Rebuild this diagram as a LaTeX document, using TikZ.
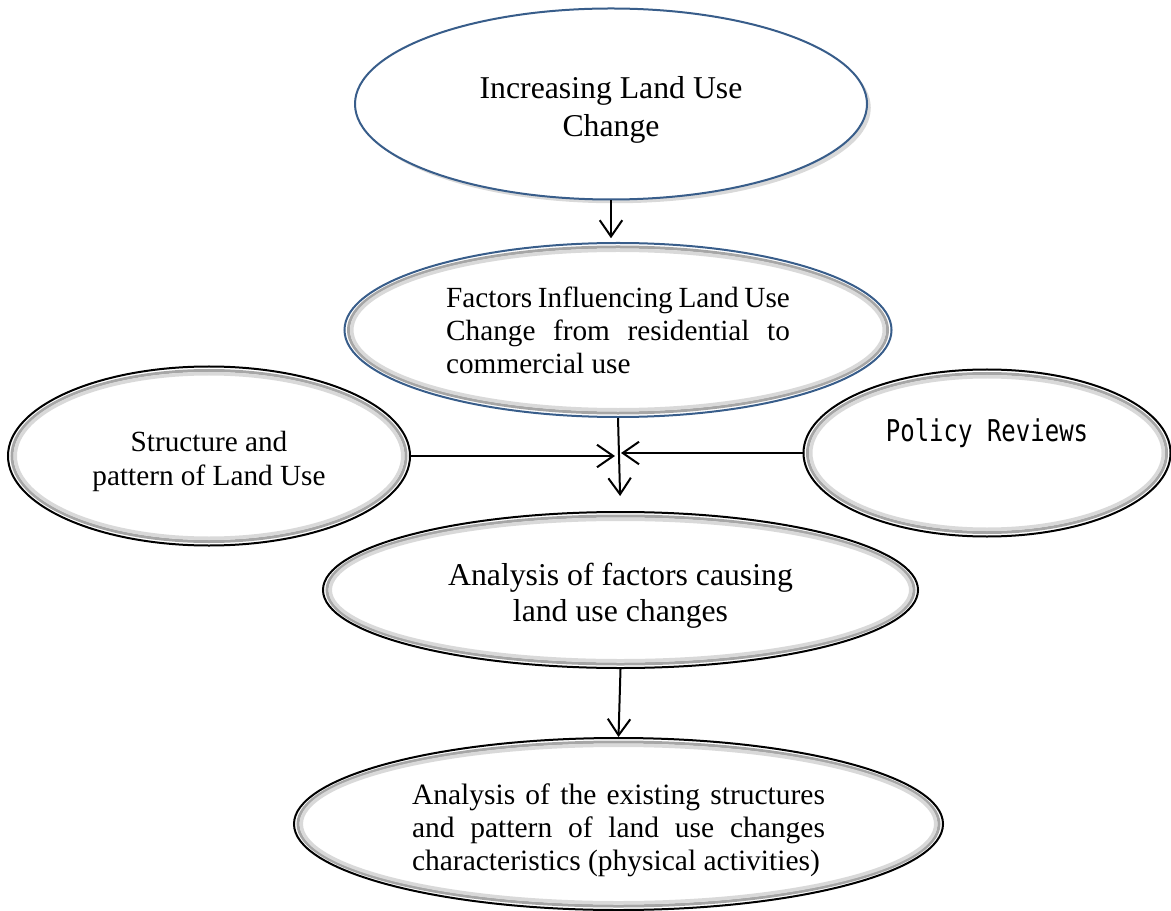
\documentclass[tikz,border=0pt]{standalone}
\usepackage{fontspec}
\setmainfont{Liberation Serif}
\newfontfamily\polfont[FakeStretch=0.8]{DejaVu Sans Mono}
\usepackage{tikz}
\usetikzlibrary{arrows.meta, positioning, shapes, shadows, calc}

\definecolor{wordblue}{RGB}{56,93,138}

\tikzset{
  oval/.style={ellipse, draw=black, line width=0.8pt, fill=white, inner sep=0pt},
  bevel/.style={path picture={
    \draw[gray!70, line width=1.2pt] let \p1=(path picture bounding box.north east), \p2=(path picture bounding box.center) in
      (\p2) ellipse [x radius={\x1-\x2-1.6pt}, y radius={\y1-\y2-1.6pt}];
    \draw[gray!30, line width=1.4pt] let \p1=(path picture bounding box.north east), \p2=(path picture bounding box.center) in
      (\p2) ellipse [x radius={\x1-\x2-2.9pt}, y radius={\y1-\y2-2.9pt}];
  }},
  flow/.style={line width=0.8pt, -{Straight Barb[length=6.5pt, width=9pt]}},
}

\begin{document}
\begin{tikzpicture}[x=0.4pt, y=-0.4pt]
\useasboundingbox (0,0) rectangle (1171,911);

% Ellipses
\node[oval, draw=wordblue, minimum width=204.8pt, minimum height=76.4pt,
  drop shadow={shadow xshift=1.5pt, shadow yshift=-1.5pt, opacity=0.3}] (inc) at (611,104) {};
\node[oval, bevel, draw=wordblue, minimum width=218.8pt, minimum height=69.6pt] (fac) at (618,330) {};
\node[oval, bevel, minimum width=160.8pt, minimum height=71.6pt] (sap) at (209,456) {};
\node[oval, bevel, minimum width=146.8pt, minimum height=66.8pt] (pol) at (987,453) {};
\node[oval, bevel, minimum width=238pt, minimum height=62.4pt] (ana) at (620.5,590) {};
\node[oval, bevel, minimum width=259.6pt, minimum height=68.8pt] (bot) at (618.5,824) {};

% Texts
\node[font=\fontsize{12.7}{15.2}\selectfont, align=center] (inctxt) at ([yshift=-2.2pt]inc.center)
  {Increasing Land Use\\Change};
\node[font=\fontsize{11.7}{13.2}\selectfont, text width=137.5pt, align=justify] (factxt) at (fac.center)
  {Factors Influencing Land Use\linebreak Change from residential to\linebreak commercial use};
\node[font=\fontsize{11.7}{13.6}\selectfont, align=center] (saptxt) at ([yshift=-2pt]sap.center)
  {Structure and\\pattern of Land Use};
\node[font=\polfont\fontsize{12}{14}\selectfont] (poltxt) at ([yshift=8pt]pol.center)
  {Policy Reviews};
\node[font=\fontsize{12.7}{14.4}\selectfont, align=center] (anatxt) at ([yshift=-2.4pt]ana.center)
  {Analysis of factors causing\\land use changes};
\node[font=\fontsize{11.8}{13.2}\selectfont, text width=165.2pt, align=justify] (bottxt) at ([yshift=-2.6pt]bot.center)
  {Analysis of the existing structures\linebreak and pattern of land use changes\linebreak characteristics (physical activities)};

% Arrows
\coordinate (meet) at (618,455);
\draw[flow, shorten >=1.5pt] (inc.south) -- (inc.south |- fac.north);
\draw[flow, shorten >=6pt] (fac.south) -- (ana.north);
\draw[flow, shorten >=1.2pt] (sap.east) -- (sap.east -| meet);
\draw[flow, shorten >=1.2pt] (pol.west) -- (pol.west -| meet);
\draw[flow] (ana.south) -- (bot.north);
\end{tikzpicture}
\end{document}
